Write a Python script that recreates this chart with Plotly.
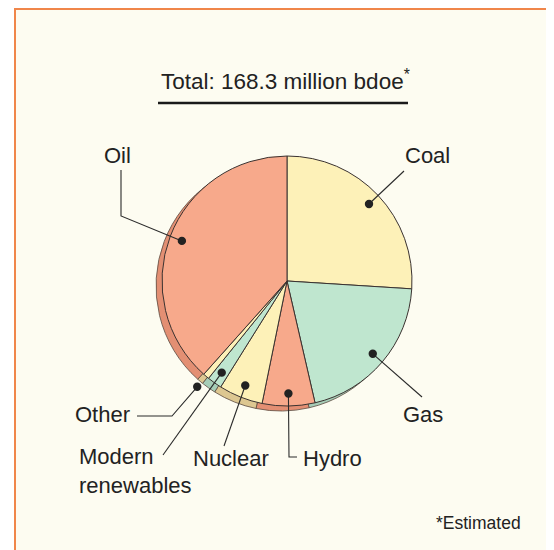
import math
import plotly.graph_objects as go

# ---- data ----
categories = ["Coal", "Gas", "Hydro", "Nuclear", "Modern renewables", "Other", "Oil"]
shares = [26.0, 20.4, 6.8, 5.7, 1.9, 0.8, 38.4]
title_text = "Total: 168.3 million bdoe<sup>*</sup>"
footnote = "*Estimated"

# ---- styles ----
W, H = 554, 550
OFF = 8                             # page margin of the browser
main_colors = ["#fdf1b8", "#bfe6cf", "#f7a98b", "#fdf1b8", "#bfe6cf", "#fdf1b8", "#f7a98b"]
shadow_colors = ["#e4d29a", "#a6cdb7", "#e38f73", "#ddc791", "#a6cdb7", "#ddc791", "#e38f73"]
CX, CY, R = 287, 281, 125           # pie centre / radius in screen pixels
SDX, SDY = -6, 5                    # shadow offset
FONT = "Liberation Sans, Arial, Helvetica, sans-serif"
TXT = "#222222"


def px(x):
    return (x - OFF) / W


def py(y):
    return 1 - (y - OFF) / H


def dom(cx, cy):
    return dict(x=[px(cx - R), px(cx + R)], y=[py(cy + R), py(cy - R)])


fig = go.Figure()
fig.add_trace(go.Pie(labels=categories, values=shares, sort=False, direction="clockwise",
                     rotation=0, textinfo="none", hoverinfo="skip", showlegend=False,
                     marker=dict(colors=shadow_colors, line=dict(color="#5a4a40", width=0.8)),
                     domain=dom(CX + SDX, CY + SDY)))
fig.add_trace(go.Pie(labels=categories, values=shares, sort=False, direction="clockwise",
                     rotation=0, textinfo="none", hoverinfo="skip", showlegend=False,
                     marker=dict(colors=main_colors, line=dict(color="#3a3230", width=1)),
                     domain=dom(CX, CY)))

# dot positions from slice mid-angles
total = sum(shares)
dot_radius = {"Other": 1.11}
dots = {}
cum = 0
for c, v in zip(categories, shares):
    mid = (cum + v / 2) / total * 2 * math.pi
    cum += v
    r = R * dot_radius.get(c, 0.9)
    dots[c] = (CX + r * math.sin(mid), CY - r * math.cos(mid))

# leader routes (screen pixels) and label placement
leaders = {
    "Oil": [(121, 216), (121, 170)],
    "Coal": [(404, 171)],
    "Gas": [(422, 397)],
    "Hydro": [(289, 457), (297, 457)],
    "Nuclear": [(224, 446)],
    "Modern renewables": [(163, 455)],
    "Other": [(172, 416), (137, 416)],
}
labels = [
    ("Oil", 117, 155, "center"),
    ("Coal", 427, 155, "center"),
    ("Gas", 423, 414, "center"),
    ("Hydro", 301, 458, "left"),
    ("Nuclear", 231, 458, "center"),
    ("Modern<br>renewables", 77, 471, "left"),
    ("Other", 132, 414, "right"),
]

shapes = [
    dict(type="rect", xref="paper", yref="paper", x0=px(15), x1=px(550), y0=-0.05, y1=py(9),
         fillcolor="#fdfcf1", line=dict(color="#f0864a", width=2), layer="below"),
    dict(type="line", xref="paper", yref="paper", x0=px(158), x1=px(408), y0=py(103), y1=py(103),
         line=dict(color="#1a1a1a", width=2.5)),
]
for c, route in leaders.items():
    pts = [dots[c]] + route
    path = "M " + " L ".join(f"{px(x):.5f},{py(y):.5f}" for x, y in pts)
    shapes.append(dict(type="path", xref="paper", yref="paper", path=path,
                       line=dict(color="#2a2a2a", width=1.1), layer="above"))
for c, (x, y) in dots.items():
    rr = 4.2
    shapes.append(dict(type="circle", xref="paper", yref="paper",
                       x0=px(x - rr), x1=px(x + rr), y0=py(y + rr), y1=py(y - rr),
                       fillcolor="#222222", line=dict(width=0), layer="above"))

annotations = [
    dict(text=title_text, x=px(159), y=py(80), xref="paper", yref="paper", xanchor="left",
         yanchor="middle", showarrow=False, font=dict(size=22.5, color=TXT, family=FONT)),
    dict(text=footnote, x=px(523), y=py(523), xref="paper", yref="paper", xanchor="right",
         yanchor="middle", showarrow=False, font=dict(size=17.5, color=TXT, family=FONT)),
]
for t, x, y, anc in labels:
    annotations.append(dict(text=t, x=px(x), y=py(y), xref="paper", yref="paper",
                            xanchor=anc, yanchor="middle", align=anc,
                            showarrow=False, font=dict(size=22, color=TXT, family=FONT)))

fig.update_layout(width=W, height=H, margin=dict(l=0, r=0, t=0, b=0),
                  paper_bgcolor="white", plot_bgcolor="rgba(0,0,0,0)",
                  shapes=shapes, annotations=annotations, showlegend=False)
fig.write_html("out.html")
